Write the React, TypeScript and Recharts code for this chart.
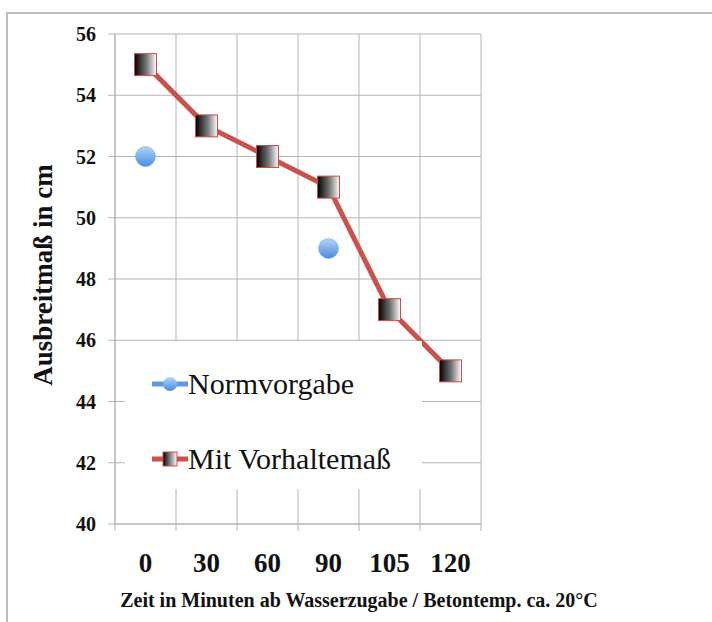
import { CartesianGrid, Legend, Line, LineChart, XAxis, YAxis } from "recharts";

const categories = ["0", "30", "60", "90", "105", "120"];
const normvorgabe = [52, null, null, 49, null, null];
const vorhaltemass = [55, 53, 52, 51, 47, 45];
const yTicks = [40, 42, 44, 46, 48, 50, 52, 54, 56];

const data = categories.map((cat, i) => ({
  cat,
  norm: normvorgabe[i],
  vorhalt: vorhaltemass[i],
}));

const FONT = '"Liberation Serif", "Times New Roman", serif';
const GRID = "#b4b4b4";
const RED = "#c9524b";
const BLUE = "#5a9be0";
const HALF_BAND = 30.5;

function SquareDot(props: any) {
  const { cx, cy, index } = props;
  if (cx == null || cy == null) return <g key={`sq-${index}`} />;
  return (
    <rect
      key={`sq-${index}`}
      x={cx - 11}
      y={cy - 11}
      width={22}
      height={22}
      fill="url(#sqGrad)"
      stroke="#d24a4a"
      strokeWidth={1}
    />
  );
}

function CircleDot(props: any) {
  const { cx, cy, index } = props;
  if (cx == null || cy == null) return <g key={`ci-${index}`} />;
  return <circle key={`ci-${index}`} cx={cx} cy={cy} r={10} fill="url(#ciGrad)" stroke="#6aa2e0" strokeWidth={0.5} />;
}

// label at the category centre, tick marks at the band edges
function CatTick(props: any) {
  const { x, y, payload, index, visibleTicksCount } = props;
  const axisY = y - 29;
  return (
    <g>
      <line x1={x - HALF_BAND} y1={axisY} x2={x - HALF_BAND} y2={axisY + 7} stroke={GRID} />
      {index === visibleTicksCount - 1 && (
        <line x1={x + HALF_BAND} y1={axisY} x2={x + HALF_BAND} y2={axisY + 7} stroke={GRID} />
      )}
      <text x={x} y={y} dy="0.71em" textAnchor="middle" fontSize={27} fontWeight="bold" fill="#111" fontFamily={FONT}>
        {payload.value}
      </text>
    </g>
  );
}

function LegendBox() {
  const row = (top: number, label: string, icon: React.ReactNode) => (
    <div style={{ position: "absolute", left: 27, top, height: 30, display: "flex", alignItems: "center" }}>
      <svg width={36} height={20} style={{ display: "block" }}>
        <defs>
          <linearGradient id="lgSq" x1="0" y1="0" x2="1" y2="0">
            <stop offset="0%" stopColor="#000" />
            <stop offset="100%" stopColor="#fff" />
          </linearGradient>
          <linearGradient id="lgCi" x1="0" y1="0" x2="0" y2="1">
            <stop offset="0%" stopColor="#b2d4f8" />
            <stop offset="100%" stopColor="#4a8ce0" />
          </linearGradient>
        </defs>
        {icon}
      </svg>
      <span style={{ fontFamily: FONT, fontSize: 30, color: "#111", lineHeight: "30px" }}>{label}</span>
    </div>
  );
  return (
    <div style={{ position: "relative", width: 297, height: 148, background: "#fff" }}>
      {row(28, "Normvorgabe", (
        <g>
          <line x1={0} y1={10} x2={36} y2={10} stroke={BLUE} strokeWidth={5} strokeLinecap="round" />
          <circle cx={18} cy={10} r={7} fill="url(#lgCi)" />
        </g>
      ))}
      {row(103, "Mit Vorhaltemaß", (
        <g>
          <line x1={0} y1={10} x2={36} y2={10} stroke={RED} strokeWidth={5} />
          <rect x={11} y={3} width={14} height={14} fill="url(#lgSq)" stroke="#d24a4a" strokeWidth={1} />
        </g>
      ))}
    </div>
  );
}

export default function App() {
  return (
    <div style={{ position: "absolute", left: 0, top: 0, width: 712, height: 622, background: "#fff", overflow: "hidden" }}>
      <div
        style={{
          position: "absolute",
          left: 6,
          top: 12,
          width: 720,
          height: 620,
          borderLeft: "2px solid #bdbdbd",
          borderTop: "2px solid #bdbdbd",
        }}
      />
      <LineChart
        width={712}
        height={622}
        data={data}
        margin={{ top: 34, right: 231, bottom: 0, left: 0 }}
        style={{ fontFamily: FONT }}
      >
        <defs>
          <linearGradient id="sqGrad" x1="0" y1="0" x2="1" y2="0">
            <stop offset="0%" stopColor="#000" />
            <stop offset="55%" stopColor="#777" />
            <stop offset="100%" stopColor="#fff" />
          </linearGradient>
          <linearGradient id="ciGrad" x1="0" y1="0" x2="0" y2="1">
            <stop offset="0%" stopColor="#b2d4f8" />
            <stop offset="100%" stopColor="#4a8ce0" />
          </linearGradient>
        </defs>
        <CartesianGrid
          stroke={GRID}
          strokeWidth={1}
          verticalCoordinatesGenerator={({ offset }: any) =>
            categories.map((_, i) => offset.left + (i * offset.width) / categories.length).concat(offset.left + offset.width)
          }
        />
        <XAxis
          dataKey="cat"
          height={98}
          padding={{ left: HALF_BAND, right: HALF_BAND }}
          axisLine={{ stroke: GRID }}
          tickLine={false}
          tickSize={6}
          tickMargin={23}
          tick={<CatTick />}
          label={{
            value: "Zeit in Minuten ab Wasserzugabe / Betontemp. ca. 20°C",
            position: "insideBottom",
            offset: 15,
            dx: 61,
            style: { fontSize: 20, fontWeight: "bold", fill: "#111", fontFamily: FONT },
          }}
        />
        <YAxis
          domain={[40, 56]}
          ticks={yTicks}
          width={115}
          tickSize={7}
          tickMargin={12}
          axisLine={{ stroke: GRID }}
          tickLine={{ stroke: GRID }}
          tick={{ fontSize: 20, fontWeight: "bold", fill: "#111", fontFamily: FONT }}
          label={{
            value: "Ausbreitmaß in cm",
            angle: -90,
            position: "center",
            dx: -15,
            dy: -4,
            style: { fontSize: 27, fontWeight: "bold", fill: "#111", fontFamily: FONT, textAnchor: "middle" },
          }}
        />
        <Legend
          layout="vertical"
          align="center"
          verticalAlign="middle"
          content={() => <LegendBox />}
          wrapperStyle={{ position: "absolute", left: 125, top: 341, width: 297, height: 148 }}
        />
        <Line
          dataKey="vorhalt"
          stroke={RED}
          strokeWidth={5}
          dot={(p: any) => <SquareDot {...p} />}
          activeDot={false}
          isAnimationActive={false}
        />
        <Line
          dataKey="norm"
          stroke="none"
          dot={(p: any) => <CircleDot {...p} />}
          activeDot={false}
          isAnimationActive={false}
        />
      </LineChart>
    </div>
  );
}
